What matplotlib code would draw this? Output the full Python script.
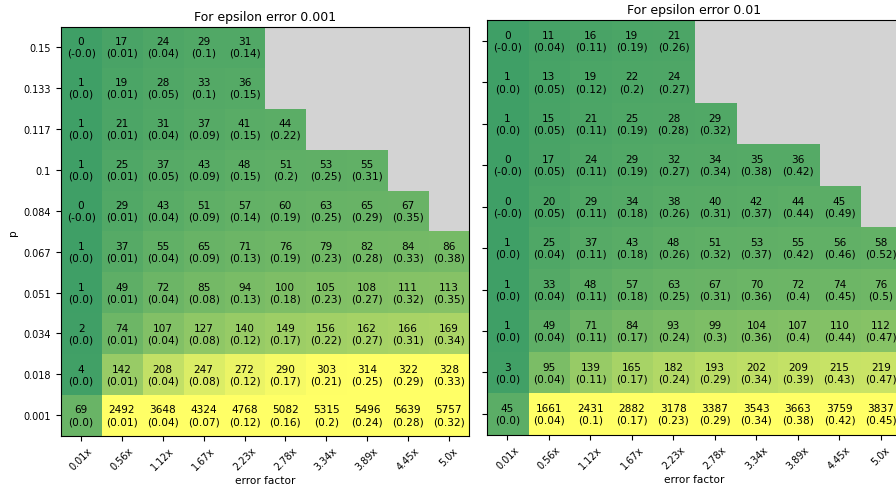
import numpy as np
import matplotlib
matplotlib.use("Agg")
import matplotlib.pyplot as plt
from matplotlib.colors import Normalize

p_labels = ["0.15", "0.133", "0.117", "0.1", "0.084", "0.067", "0.051", "0.034", "0.018", "0.001"]
factor_labels = ["0.01x", "0.56x", "1.12x", "1.67x", "2.23x", "2.78x", "3.34x", "3.89x", "4.45x", "5.0x"]

# sample counts and relative errors, epsilon = 0.001 (None = no run)
counts_001 = [
    [0, 17, 24, 29, 31, None, None, None, None, None],
    [1, 19, 28, 33, 36, None, None, None, None, None],
    [1, 21, 31, 37, 41, 44, None, None, None, None],
    [1, 25, 37, 43, 48, 51, 53, 55, None, None],
    [0, 29, 43, 51, 57, 60, 63, 65, 67, None],
    [1, 37, 55, 65, 71, 76, 79, 82, 84, 86],
    [1, 49, 72, 85, 94, 100, 105, 108, 111, 113],
    [2, 74, 107, 127, 140, 149, 156, 162, 166, 169],
    [4, 142, 208, 247, 272, 290, 303, 314, 322, 328],
    [69, 2492, 3648, 4324, 4768, 5082, 5315, 5496, 5639, 5757],
]
errors_001 = [
    [-0.0, 0.01, 0.04, 0.1, 0.14, None, None, None, None, None],
    [0.0, 0.01, 0.05, 0.1, 0.15, None, None, None, None, None],
    [0.0, 0.01, 0.04, 0.09, 0.15, 0.22, None, None, None, None],
    [0.0, 0.01, 0.05, 0.09, 0.15, 0.2, 0.25, 0.31, None, None],
    [-0.0, 0.01, 0.04, 0.09, 0.14, 0.19, 0.25, 0.29, 0.35, None],
    [0.0, 0.01, 0.04, 0.09, 0.13, 0.19, 0.23, 0.28, 0.33, 0.38],
    [0.0, 0.01, 0.04, 0.08, 0.13, 0.18, 0.23, 0.27, 0.32, 0.35],
    [0.0, 0.01, 0.04, 0.08, 0.12, 0.17, 0.22, 0.27, 0.31, 0.34],
    [0.0, 0.01, 0.04, 0.08, 0.12, 0.17, 0.21, 0.25, 0.29, 0.33],
    [0.0, 0.01, 0.04, 0.07, 0.12, 0.16, 0.2, 0.24, 0.28, 0.32],
]

# epsilon = 0.01
counts_01 = [
    [0, 11, 16, 19, 21, None, None, None, None, None],
    [1, 13, 19, 22, 24, None, None, None, None, None],
    [1, 15, 21, 25, 28, 29, None, None, None, None],
    [0, 17, 24, 29, 32, 34, 35, 36, None, None],
    [0, 20, 29, 34, 38, 40, 42, 44, 45, None],
    [1, 25, 37, 43, 48, 51, 53, 55, 56, 58],
    [1, 33, 48, 57, 63, 67, 70, 72, 74, 76],
    [1, 49, 71, 84, 93, 99, 104, 107, 110, 112],
    [3, 95, 139, 165, 182, 193, 202, 209, 215, 219],
    [45, 1661, 2431, 2882, 3178, 3387, 3543, 3663, 3759, 3837],
]
errors_01 = [
    [-0.0, 0.04, 0.11, 0.19, 0.26, None, None, None, None, None],
    [0.0, 0.05, 0.12, 0.2, 0.27, None, None, None, None, None],
    [0.0, 0.05, 0.11, 0.19, 0.28, 0.32, None, None, None, None],
    [-0.0, 0.05, 0.11, 0.19, 0.27, 0.34, 0.38, 0.42, None, None],
    [-0.0, 0.05, 0.11, 0.18, 0.26, 0.31, 0.37, 0.44, 0.49, None],
    [0.0, 0.04, 0.11, 0.18, 0.26, 0.32, 0.37, 0.42, 0.46, 0.52],
    [0.0, 0.04, 0.11, 0.18, 0.25, 0.31, 0.36, 0.4, 0.45, 0.5],
    [0.0, 0.04, 0.11, 0.17, 0.24, 0.3, 0.36, 0.4, 0.44, 0.47],
    [0.0, 0.04, 0.11, 0.17, 0.24, 0.29, 0.34, 0.39, 0.43, 0.47],
    [0.0, 0.04, 0.1, 0.17, 0.23, 0.29, 0.34, 0.38, 0.42, 0.45],
]


def to_masked(rows):
    arr = np.array([[np.nan if v is None else v for v in r] for r in rows], dtype=float)
    return np.ma.masked_invalid(arr)


def draw_heatmap(ax, counts, errors, title, show_ylabels):
    data = to_masked(counts)
    ax.set_facecolor("lightgray")
    ax.imshow(data, cmap="summer", norm=Normalize(vmin=-100, vmax=305), aspect="auto")
    for i, row in enumerate(counts):
        for j, v in enumerate(row):
            if v is None:
                continue
            ax.text(j, i, f"{v}\n({errors[i][j]})", ha="center", va="center",
                    fontsize=7.6, linespacing=1.2)
    ax.set_xticks(range(len(factor_labels)))
    ax.set_xticklabels(factor_labels, rotation=45, fontsize=7)
    ax.set_yticks(range(len(p_labels)))
    if show_ylabels:
        ax.set_yticklabels(p_labels, fontsize=7)
        ax.set_ylabel("p", fontsize=7.6)
    else:
        ax.set_yticklabels([])
    ax.set_xlabel("error factor", fontsize=7.6, labelpad=2)
    ax.set_title(title, fontsize=9, pad=5)


fig = plt.figure(figsize=(8.96, 4.89), dpi=100)
ax1 = fig.add_axes([0.0677, 0.107, 0.456, 0.8364])
ax2 = fig.add_axes([0.5432, 0.109, 0.4632, 0.848])

draw_heatmap(ax1, counts_001, errors_001, "For epsilon error 0.001", True)
draw_heatmap(ax2, counts_01, errors_01, "For epsilon error 0.01", False)

fig.savefig("out.png", dpi=100)
